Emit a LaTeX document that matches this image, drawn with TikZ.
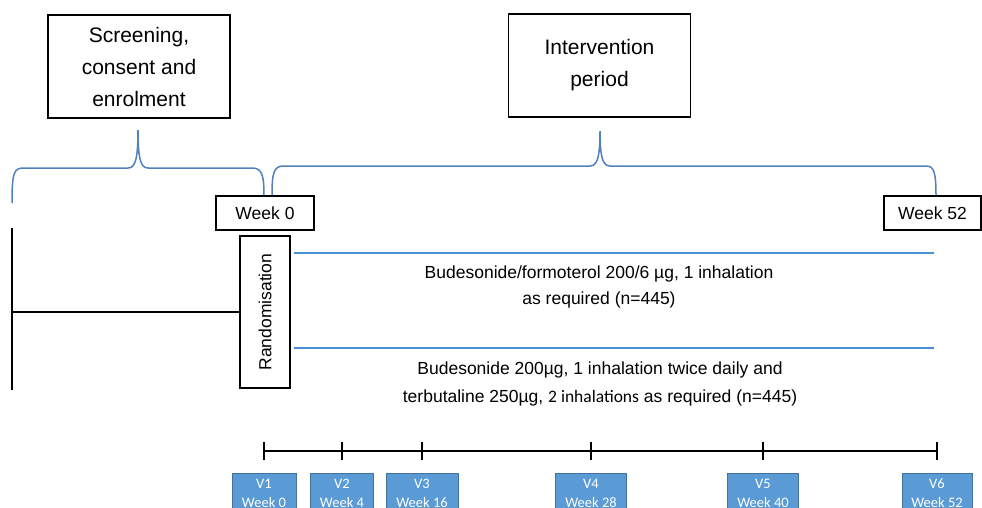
\documentclass[tikz,border=0pt]{standalone}
\usepackage{fontspec}
\setmainfont{Liberation Sans}
\newfontfamily\calibri{Carlito}
\usetikzlibrary{positioning}
\definecolor{bracecol}{HTML}{4F81BD}
\definecolor{armcol}{HTML}{4A8FD4}
\definecolor{visitfill}{HTML}{5B9BD5}
\definecolor{visitdraw}{HTML}{41719C}

\begin{document}
\begin{tikzpicture}[
    x=1pt, y=-1pt,
    every node/.style={font=\fontsize{17.5}{31}\selectfont, align=center},
    phasebox/.style={draw, line width=1.2pt, minimum width=182pt, minimum height=103pt,
      font=\fontsize{21}{32}\selectfont},
    weekbox/.style={draw, line width=1.2pt, minimum width=98pt, minimum height=34pt, inner sep=0pt},
    visit/.style={draw=visitdraw, fill=visitfill, text=white, line width=0.8pt, anchor=north,
      minimum height=40pt, inner sep=0pt, font=\calibri\fontsize{14.5}{19}\selectfont},
    bracepath/.style={draw=bracecol, line width=1.5pt},
    armline/.style={draw=armcol, line width=1.6pt},
    timeline/.style={line width=1.8pt}
]
\useasboundingbox (0,0) rectangle (982,507);
\clip (0,0) rectangle (982,507);

% Phase boxes
\node[phasebox] (screen) at (139,66.5) {Screening,\\ consent and\\ enrolment};
\node[phasebox] (interv) at (599.5,65.5) {Intervention\\ period};

% Braces
\path[bracepath] (12,203) .. controls (12,172) and (14,168) .. (24,168) -- (128,168)
  .. controls (135,168) and (138,160) .. (138,130) .. controls (138,160) and (141,168) .. (148,168)
  -- (252,168) .. controls (262,168) and (264,175) .. (264,196);
\path[bracepath] (272,195) .. controls (272,172) and (274,166) .. (284,166) -- (590,166)
  .. controls (597,166) and (600,158) .. (600,131) .. controls (600,158) and (603,166) .. (610,166)
  -- (926,166) .. controls (934,166) and (936,172) .. (936,196);

% Week markers and randomisation
\node[weekbox] (week0) at (265,213) {Week 0};
\node[weekbox, minimum width=97pt] (week52) at (932.5,213) {Week 52};
\node[draw, line width=1.2pt, rotate=90, minimum width=152pt, minimum height=50pt, inner sep=0pt] (rand) at (265,312) {Randomisation};

% Enrolment line (rotated node: north is its left side, south its right side)
\coordinate (enroltop) at (12,228);
\coordinate (enrolbot) at (12,390);
\draw[line width=1.5pt] (enroltop) -- (enrolbot);
\draw[line width=1.5pt] (enroltop |- rand.north) -- (rand.north);

% Treatment arms
\coordinate (armAend) at (934,253);
\coordinate (armBend) at (934,348);
\draw[armline] ([xshift=3pt]rand.south |- armAend) -- (armAend);
\draw[armline] ([xshift=3pt]rand.south |- armBend) -- (armBend);
\node[font=\fontsize{17.5}{26}\selectfont] (armA) at (599,287) {Budesonide/formoterol 200/6 µg, 1 inhalation\\ as required (n=445)};
\node[font=\fontsize{17.5}{28}\selectfont] (armB) at (600,384) {Budesonide 200µg, 1 inhalation twice daily and\\ terbutaline 250µg, {\calibri 2 inhalations} as required (n=445)};

% Visit timeline
\foreach \x [count=\i] in {264,342,422,591,763,937}
  \coordinate (t\i) at (\x,451);
\draw[timeline] (t1) -- (t6);
\foreach \i in {1,...,6}
  \draw[timeline] ([yshift=9pt]t\i) -- ([yshift=-9pt]t\i);

% Visit boxes
\foreach \i/\wk/\w in {1/0/64,2/4/63,3/16/72,4/28/71,5/40/71,6/52/70}
  \node[visit, minimum width=\w pt, below=22pt of t\i] (v\i) {V\i\\ Week \wk};

\end{tikzpicture}
\end{document}
